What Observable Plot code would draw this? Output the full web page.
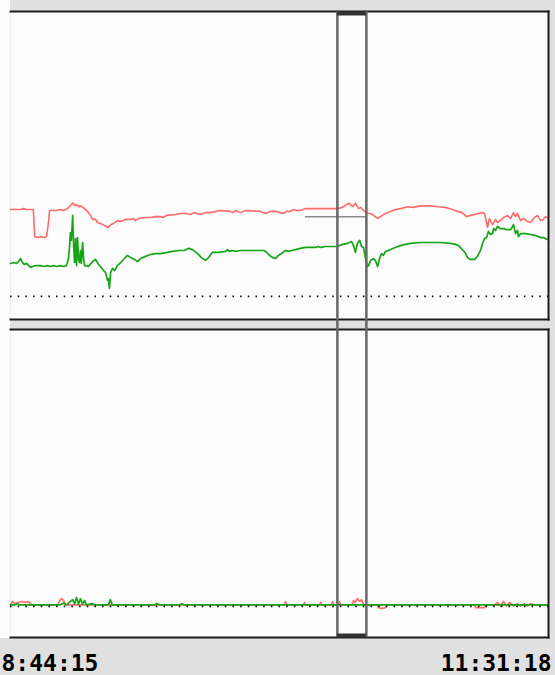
<!DOCTYPE html>
<html>
<head>
<meta charset="utf-8">
<script src="https://cdn.jsdelivr.net/npm/d3@7"></script>
<script src="https://cdn.jsdelivr.net/npm/@observablehq/plot@0.6"></script>
<style>
html, body { margin: 0; padding: 0; background: #e0e0e0; }
#chart svg {
  display: block;
  background: linear-gradient(#fcfcfc, #fcfcfc) 0 0 / 10px 638px no-repeat, #e0e0e0 !important;
}
#chart svg g[aria-label="x-axis tick label"] text {
  font-family: "DejaVu Sans Mono", monospace;
  font-weight: bold;
  font-size: 23px;
  fill: #000;
}
</style>
</head>
<body>
<div id="chart"></div>
<script>
// Time span of the recording
const startTime = "08:44:15";
const endTime = "11:31:18";
const panels = ["top", "bottom"];

// Selection window (vertical box)
const selectionFrom = "10:25:45";
const selectionTo = "10:34:45";

// Reference (dotted) levels per panel
const refLevels = [["top", 7.5], ["bottom", 10.1]];

// Cursor marker in the top panel: [from min, to min, value]
const cursorMarker = [91.6, 110.8, 33.4];

// Series: [minutes since start, value]
const redTop = [[0,35.7],[3.1,35.7],[4.0,36.0],[5.0,35.7],[7.1,35.7],[7.5,26.9],[8.7,26.6],[9.3,26.9],[10.6,26.6],[11.2,26.9],[11.8,31.5],[12.1,35.4],[14.0,35.4],[15.5,35.7],[16.5,35.4],[17.7,36.0],[18.6,37.0],[19.3,37.8],[19.9,37.0],[20.5,37.3],[21.1,36.6],[21.7,37.0],[23.0,36.0],[23.9,35.1],[24.8,33.8],[25.5,32.5],[26.4,32.5],[27.0,31.5],[27.9,31.2],[29.2,30.5],[30.4,29.9],[31.1,30.8],[32.0,31.2],[33.2,32.1],[34.2,31.8],[35.7,32.5],[37.3,32.5],[38.2,32.8],[38.8,32.1],[39.7,32.8],[41.9,33.1],[43.5,33.1],[45.0,33.4],[46.6,33.4],[47.5,33.1],[48.4,33.8],[51.2,34.1],[52.8,34.4],[54.3,34.4],[55.9,34.1],[57.1,34.7],[58.1,34.4],[59.0,34.1],[60.5,34.7],[62.1,34.7],[65.2,35.4],[68.3,35.1],[69.2,34.7],[69.9,35.4],[71.4,34.7],[73.0,35.4],[77.6,35.1],[79.2,34.4],[80.7,35.1],[82.3,35.1],[84.8,34.4],[85.7,35.1],[86.9,35.1],[87.9,35.7],[88.8,35.4],[90.0,35.4],[91.6,36.0],[96.1,36.0],[101.5,36.0],[103.1,36.4],[104.3,37.3],[105.3,37.7],[106.2,36.6],[107.1,37.7],[108.1,36.0],[108.7,36.4],[109.6,35.4],[110.8,34.4],[111.8,34.4],[112.7,33.8],[114.0,32.8],[114.9,33.4],[116.4,34.4],[118.0,35.1],[119.5,35.7],[121.1,36.0],[123.3,36.6],[125.1,36.4],[127.3,36.9],[130.4,36.9],[132.6,36.6],[135.1,36.4],[137.2,35.7],[138.8,35.1],[140.3,34.7],[141.6,33.4],[142.8,33.8],[145.3,34.4],[146.6,34.7],[147.2,34.4],[147.8,31.5],[148.1,29.9],[148.7,32.8],[149.0,32.1],[149.7,30.8],[150.6,32.5],[151.2,31.5],[152.1,32.1],[153.1,33.1],[154.3,33.8],[155.3,32.8],[156.2,34.7],[156.8,33.4],[157.4,34.4],[158.4,32.1],[159.3,32.8],[160.5,31.8],[161.5,31.5],[162.4,32.8],[163.6,33.8],[164.6,32.1],[165.5,32.5],[166.1,33.4],[166.7,33.1]];

const greenTop = [[0,18.2],[0.9,18.5],[1.9,18.2],[2.5,18.8],[3.1,19.8],[3.7,18.5],[4.3,17.9],[5.0,18.2],[6.2,16.9],[6.8,17.2],[7.8,17.5],[9.3,17.5],[10.6,17.2],[11.5,17.5],[12.4,17.2],[13.4,17.5],[14.3,17.2],[15.5,17.5],[16.5,17.2],[17.4,17.5],[18.0,19.8],[18.3,23.1],[18.6,28.2],[18.9,25.7],[19.3,33.8],[19.6,24.0],[19.9,18.5],[20.2,26.3],[20.5,17.5],[20.8,26.6],[21.1,19.8],[21.4,18.5],[21.7,22.4],[22.0,18.2],[22.4,25.0],[22.7,19.8],[23.0,17.5],[23.3,17.5],[24.2,17.2],[25.5,18.8],[26.4,19.5],[27.3,17.9],[27.9,17.2],[28.9,15.9],[29.5,15.3],[30.1,12.7],[30.4,13.3],[30.7,10.1],[31.1,15.3],[31.7,16.6],[32.3,15.9],[33.2,17.5],[34.2,18.5],[35.4,19.8],[36.3,20.8],[37.3,20.1],[38.5,19.5],[39.4,18.8],[40.4,19.8],[41.9,20.5],[43.5,21.1],[45.0,21.4],[46.6,21.4],[48.7,21.8],[50.3,22.1],[52.2,22.4],[54.0,22.4],[55.3,23.1],[56.5,22.7],[58.1,21.4],[59.3,20.1],[60.5,19.2],[61.5,20.1],[62.7,21.8],[64.6,21.8],[66.8,22.1],[67.4,22.7],[68.0,22.1],[68.9,22.4],[69.9,22.1],[71.4,22.4],[74.5,22.4],[78.6,22.4],[79.2,22.1],[80.1,21.1],[81.4,20.1],[82.3,19.8],[83.2,20.8],[84.1,21.4],[85.4,22.4],[86.3,22.1],[87.3,22.4],[88.5,22.7],[90.0,23.1],[91.6,23.4],[94.7,23.4],[95.6,23.7],[96.3,23.4],[97.8,23.7],[101.5,23.7],[103.1,24.4],[104.6,24.7],[105.9,25.3],[106.5,24.0],[107.1,21.8],[107.7,24.7],[108.4,25.7],[109.0,23.7],[109.6,23.4],[110.2,20.1],[110.8,17.2],[111.2,17.5],[111.8,19.2],[112.7,19.8],[113.3,19.2],[114.0,17.2],[114.6,19.8],[115.2,21.4],[115.8,20.8],[116.4,22.1],[118.0,22.7],[119.5,23.4],[121.1,24.0],[122.6,24.4],[124.2,24.7],[127.3,25.0],[130.4,25.0],[133.5,25.0],[136.6,24.7],[138.2,24.4],[139.1,24.0],[140.3,22.7],[141.3,21.4],[141.9,20.1],[142.8,19.5],[144.1,19.5],[145.0,20.5],[145.9,22.4],[146.6,24.7],[147.2,26.3],[147.8,26.6],[148.4,28.6],[149.0,27.6],[149.7,27.9],[150.0,29.5],[150.6,28.9],[151.2,30.2],[152.1,29.5],[153.1,29.5],[154.0,29.2],[155.3,29.2],[155.9,30.2],[156.2,30.8],[156.8,27.9],[157.4,28.9],[157.7,26.9],[158.4,27.9],[159.9,27.9],[161.5,27.6],[163.0,27.3],[163.9,26.9],[164.6,26.6],[165.5,26.6],[166.1,26.3],[166.7,26.0]];

const redBottom = [[0,10.6],[0.6,11.7],[1.5,11.0],[2.5,11.4],[3.4,11.7],[4.6,11.4],[5.6,11.7],[6.5,10.6],[14.6,10.6],[15.2,11.7],[15.8,12.7],[16.5,12.0],[17.1,10.6],[85.1,10.6],[85.4,11.7],[85.7,10.6],[91.0,10.6],[91.3,11.4],[91.6,10.6],[96.0,10.6],[96.3,11.4],[96.6,10.6],[99.7,10.6],[100.0,11.7],[100.3,10.6],[101.9,10.6],[102.2,11.7],[102.5,10.6],[106.0,10.6],[106.5,12.0],[107.1,11.4],[107.7,12.7],[108.4,11.7],[109.0,12.3],[109.6,10.6],[113.7,10.6],[114.3,9.7],[115.2,9.4],[116.4,9.7],[117.0,10.6],[144.1,10.6],[144.4,9.7],[147.2,9.7],[147.5,10.6],[150.3,10.6],[151.2,11.4],[152.1,10.2],[153.1,11.7],[154.0,10.2],[155.0,11.4],[156.2,10.2],[157.4,11.0],[158.4,10.2],[159.6,11.0],[160.5,10.2],[161.5,11.0],[162.7,10.6],[166.7,10.6]];

const greenBottom = [[0,10.6],[1.5,10.6],[2.2,11.0],[2.8,10.6],[15.5,10.6],[16.5,11.2],[17.4,10.6],[18.6,11.7],[19.3,12.3],[19.9,10.9],[20.5,13.0],[21.1,10.9],[21.7,12.6],[22.4,10.9],[23.0,12.0],[23.6,10.6],[25.5,11.0],[26.1,10.6],[30.4,10.6],[31.0,12.3],[31.6,10.6],[44.7,10.6],[45.3,11.0],[46.5,10.6],[52.5,10.6],[53.1,11.0],[53.8,10.6],[166.7,10.6]];

// ---- build tables ----
const parseHMS = s => { const [h, m, sec] = s.split(":").map(Number); return new Date(2000, 0, 1, h, m, sec); };
const t0 = parseHMS(startTime);
const t1 = parseHMS(endTime);
const atMin = m => new Date(+t0 + m * 60000);
const rows = (pairs, panel) => pairs.map(([m, v]) => ({time: atMin(m), value: v, panel}));

const redRows = rows(redTop, "top").concat(rows(redBottom, "bottom"));
const greenRows = rows(greenTop, "top").concat(rows(greenBottom, "bottom"));
const refRows = refLevels.map(([panel, value]) => ({panel, value}));
const selFrom = parseHMS(selectionFrom), selTo = parseHMS(selectionTo);
const yDomain = [0, 100];
const fmt = d3.timeFormat("%-H:%M:%S");

const border = {stroke: "#1c1c1c", strokeWidth: 2};
const selStroke = "#676767";

const chart = Plot.plot({
  width: 555,
  height: 675,
  marginLeft: 10,
  marginRight: 7,
  marginTop: 11,
  marginBottom: 38,
  style: {background: "transparent", overflow: "visible"},
  x: {type: "time", domain: [t0, t1]},
  y: {domain: yDomain, axis: null},
  fy: {domain: panels, paddingInner: 20 / 636, paddingOuter: 0, round: false, axis: null, label: null},
  marks: [
    Plot.frame({fill: "#fcfcfc"}),
    Plot.lineY(redRows, {x: "time", y: "value", fy: "panel", stroke: "#ff6a6a", strokeWidth: 1.6}),
    Plot.lineY(greenRows, {x: "time", y: "value", fy: "panel", stroke: "#16a516", strokeWidth: 1.7}),
    Plot.ruleY(refRows, {y: "value", fy: "panel", stroke: "#111", strokeWidth: 1.6, strokeDasharray: "1.6,6.07"}),
    Plot.ruleY([{panel: "top", value: cursorMarker[2], x1: atMin(cursorMarker[0]), x2: atMin(cursorMarker[1])}],
      {y: "value", x1: "x1", x2: "x2", fy: "panel", stroke: "#8a8a8a", strokeWidth: 1.5}),
    Plot.frame({anchor: "top", ...border}),
    Plot.frame({anchor: "right", ...border}),
    Plot.frame({anchor: "bottom", ...border}),
    // selection box
    Plot.ruleX([{panel: "top", t: selFrom}, {panel: "top", t: selTo}],
      {x: "t", fy: "panel", stroke: selStroke, strokeWidth: 2.5, insetTop: -1, insetBottom: -10}),
    Plot.ruleX([{panel: "bottom", t: selFrom}, {panel: "bottom", t: selTo}],
      {x: "t", fy: "panel", stroke: selStroke, strokeWidth: 2.5}),
    Plot.ruleY([{panel: "top", y: yDomain[1]}], {y: "y", x1: selFrom, x2: selTo, fy: "panel", stroke: "#333", strokeWidth: 4, dy: 2}),
    Plot.ruleY([{panel: "bottom", y: yDomain[0]}], {y: "y", x1: selFrom, x2: selTo, fy: "panel", stroke: "#333", strokeWidth: 4, dy: -2}),
    // time labels
    Plot.axisX({ticks: [t0], tickFormat: fmt, tickSize: 0, tickPadding: 17, textAnchor: "start", dx: -9, fontSize: 23, fontWeight: "bold", fontFamily: "DejaVu Sans Mono", label: null}),
    Plot.axisX({ticks: [t1], tickFormat: fmt, tickSize: 0, tickPadding: 17, textAnchor: "end", dx: 3, fontSize: 23, fontWeight: "bold", fontFamily: "DejaVu Sans Mono", label: null})
  ]
});
document.getElementById("chart").appendChild(chart);
</script>
</body>
</html>
